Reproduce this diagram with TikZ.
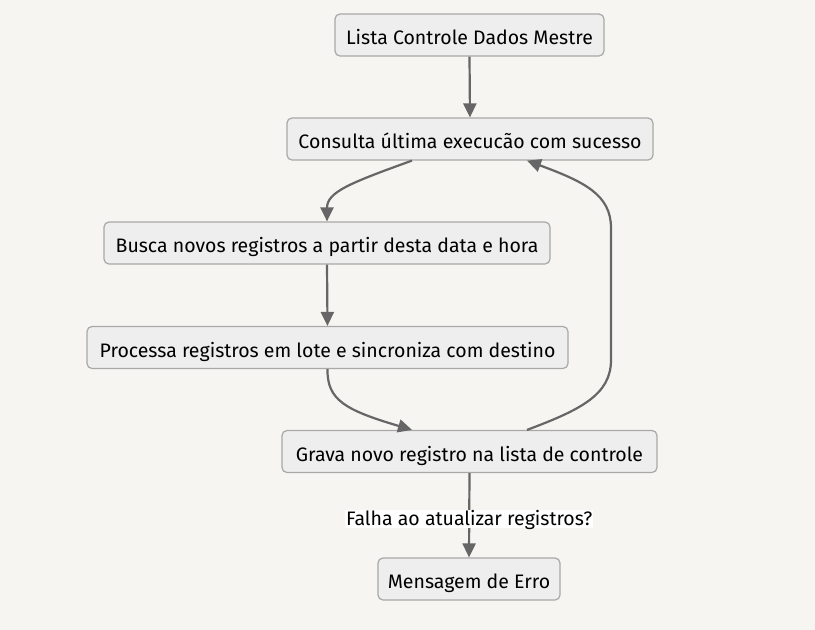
\documentclass[tikz,border=0pt]{standalone}
\usepackage{fontspec}
\setmainfont{Fira Sans}
\usetikzlibrary{arrows.meta}
\definecolor{bgc}{HTML}{F6F5F2}
\definecolor{nodefill}{HTML}{EEEEEE}
\definecolor{nodeline}{HTML}{A8A8A8}
\definecolor{edgec}{HTML}{666666}
\begin{document}
\begin{tikzpicture}[x=1pt,y=-1pt,
  box/.style={draw=nodeline, fill=nodefill, line width=1.2pt, rounded corners=5pt,
    inner sep=0pt, minimum height=42pt, font=\fontsize{19.5}{22}\selectfont, text depth=0pt, text height=19pt},
  flow/.style={draw=edgec, line width=2.2pt, -{Triangle[length=14pt,width=13pt]}},
  lbl/.style={fill=white, inner sep=1pt, font=\fontsize{19.5}{22}\selectfont, text height=14pt, text depth=2pt}
]
\fill[bgc] (0,0) rectangle (815,630);
\useasboundingbox (0,0) rectangle (815,630);

\node[box, minimum width=269pt] (a) at (469.5,35) {Lista Controle Dados Mestre};
\node[box, minimum width=366pt] (b) at (470,139) {Consulta última execucão com sucesso};
\node[box, minimum width=446pt] (c) at (327,243) {Busca novos registros a partir desta data e hora};
\node[box, minimum width=481pt] (d) at (327.5,347.5) {Processa registros em lote e sincroniza com destino};
\node[box, minimum width=375pt] (e) at (469.5,451.5) {Grava novo registro na lista de controle};
\node[box, minimum width=182pt] (f) at (469,579) {Mensagem de Erro};

\coordinate (bs) at ([xshift=-58pt]b.south);
\coordinate (bn) at ([xshift=57pt]b.south);
\coordinate (dn) at ([xshift=-57.5pt]e.north);
\coordinate (es) at ([xshift=57.5pt]e.north);

\draw[flow] (a.south) -- (b.north);
\draw[flow] (bs) .. controls (350,183) and (327,192) .. (c.north);
\draw[flow] (c.south) -- (d.north);
\draw[flow] (d.south) .. controls (327,400) and (345,410) .. (dn);
\draw[flow] (es) .. controls (580,410) and (611,395) .. (611,360) -- (611,228) .. controls (611,195) and (585,182) .. (bn);
\draw[flow] (e.south) -- node[lbl, pos=0.55] {Falha ao atualizar registros?} (f.north);
\end{tikzpicture}
\end{document}
